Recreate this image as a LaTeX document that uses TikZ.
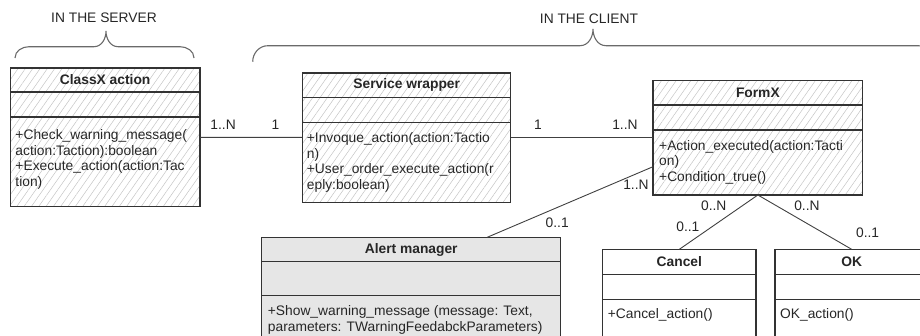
\documentclass[tikz,border=0pt]{standalone}
\usepackage{fontspec}
\setmainfont{Liberation Sans}
\usetikzlibrary{positioning, patterns.meta}

\definecolor{boxline}{HTML}{333333}
\definecolor{hatch}{HTML}{C4C4C4}
\definecolor{alertgray}{HTML}{E6E6E6}
\definecolor{bracegray}{HTML}{6A6A6A}

\newcommand{\umlfont}{\fontsize{13.8}{15.5}\selectfont}

\begin{document}
\begin{tikzpicture}[x=1pt, y=-1pt, every node/.style={font=\umlfont, text=black!85}]
  % Styles
  \tikzset{
    compart/.style={rectangle, draw=boxline, line width=1.2pt, outer sep=0pt, inner sep=0pt, minimum width=#1, minimum height=25pt},
    clsname/.style={compart=#1, font=\umlfont\bfseries},
    hatched/.style={pattern={Lines[angle=55, distance=6pt, line width=0.5pt]}, pattern color=hatch},
    grayed/.style={fill=alertgray},
    optext/.style={inner sep=0pt, align=left},
    assoc/.style={draw=black!75, line width=0.9pt},
    mult/.style={inner sep=1pt},
    brace/.style={draw=bracegray, line width=1.1pt}
  }

  \useasboundingbox (0,0) rectangle (920,335);
  \clip (0,0) rectangle (920,335);

  % Server / client braces
  \node (server-lbl) at (104,18) {IN THE SERVER};
  \node (client-lbl) at (589,19) {IN THE CLIENT};
  \draw[brace] (15,58) to[out=90,in=180] (29,46.7) -- (94,46.7) to[out=0,in=-90] (106,31)
    to[out=-90,in=180] (118,46.7) -- (180,46.7) to[out=0,in=90] (194,58);
  \draw[brace] (252.7,61.7) to[out=90,in=180] (268,45.7) -- (580,45.7) to[out=0,in=-90] (593,29)
    to[out=-90,in=180] (606,45.7) -- (918,45.7) to[out=0,in=90] (934,61.7);

  % Classes - server side
  \node[clsname=189.7pt, hatched, anchor=north, minimum height=24pt] (classx) at (105.15,68) {ClassX action};
  \node[compart=189.7pt, hatched, below=0pt of classx] (classx-attr) {};
  \node[compart=189.7pt, hatched, below=0pt of classx-attr, minimum height=89.7pt] (classx-ops) {};
  \node[optext, below right=12.5pt and 5pt of classx-ops.north west] (classx-optxt)
    {+Check\_warning\_message(\\action:Taction):boolean\\+Execute\_action(action:Tac\\tion)};

  % Classes - client side
  \node[clsname=208pt, hatched, anchor=north, minimum height=24.7pt] (serv) at (406.7,73) {Service wrapper};
  \node[compart=208pt, hatched, below=0pt of serv] (serv-attr) {};
  \node[compart=208pt, hatched, below=0pt of serv-attr, minimum height=80pt] (serv-ops) {};
  \node[optext, below right=10pt and 4pt of serv-ops.north west] (serv-optxt)
    {+Invoque\_action(action:Tactio\\n)\\+User\_order\_execute\_action(r\\eply:boolean)};

  \node[clsname=209.7pt, hatched, anchor=north, minimum height=24.3pt] (formx) at (757.85,80.7) {FormX};
  \node[compart=209.7pt, hatched, below=0pt of formx] (formx-attr) {};
  \node[compart=209.7pt, hatched, below=0pt of formx-attr, minimum height=65pt] (formx-ops) {};
  \node[optext, below right=10pt and 6pt of formx-ops.north west] (formx-optxt)
    {+Action\_executed(action:Tacti\\on)\\+Condition\_true()};

  \node[clsname=299pt, grayed, anchor=north, minimum height=24.4pt] (alert) at (411.2,237.3) {Alert manager};
  \node[compart=299pt, grayed, below=0pt of alert, minimum height=34pt] (alert-attr) {};
  \node[compart=299pt, grayed, below=0pt of alert-attr, minimum height=60pt] (alert-ops) {};
  \node[optext, below right=10pt and 6pt of alert-ops.north west] (alert-optxt)
    {+Show\_warning\_message (message: Text,\\parameters: TWarningFeedabckParameters)};

  \node[clsname=153.3pt, fill=white, anchor=north] (cancel) at (679.35,249.3) {Cancel};
  \node[compart=153.3pt, below=0pt of cancel] (cancel-attr) {};
  \node[compart=153.3pt, below=0pt of cancel-attr, minimum height=60pt] (cancel-ops) {};
  \node[optext, below right=9pt and 5pt of cancel-ops.north west] (cancel-optxt) {+Cancel\_action()};

  \node[clsname=153.3pt, fill=white, anchor=north] (ok) at (851.65,249.3) {OK};
  \node[compart=153.3pt, below=0pt of ok] (ok-attr) {};
  \node[compart=153.3pt, below=0pt of ok-attr, minimum height=60pt] (ok-ops) {};
  \node[optext, below right=9pt and 5pt of ok-ops.north west] (ok-optxt) {OK\_action()};

  % Associations
  \draw[assoc] ([yshift=-20.3pt]classx-ops.north east) -- ([yshift=-14.6pt]serv-ops.north west)
    node[mult, at start, above right=6pt and 9pt] {1..N}
    node[mult, at end, above left=6pt and 22pt] {1};
  \draw[assoc] ([yshift=-14.6pt]serv-ops.north east) -- ([yshift=-7.3pt]formx-ops.north west)
    node[mult, at start, above right=6pt and 22pt] {1}
    node[mult, at end, above left=6pt and 14pt] {1..N};
  \draw[assoc] ([yshift=-36.7pt]formx-ops.north west) -- ([xshift=76pt]alert.north)
    node[mult, at start, below left=12pt and 3pt] {1..N}
    node[mult, at end, above right=8pt and 57pt] {0..1};
  \draw[assoc] (formx-ops.south) -- (cancel.north)
    node[mult, at start, below left=4pt and 30pt] {0..N}
    node[mult, at end, anchor=south east, xshift=21.5pt, yshift=16.7pt] {0..1};
  \draw[assoc] (formx-ops.south) -- (ok.north)
    node[mult, at start, below right=4pt and 35pt] {0..N}
    node[mult, at end, above right=10pt and 3pt] {0..1};
\end{tikzpicture}
\end{document}
